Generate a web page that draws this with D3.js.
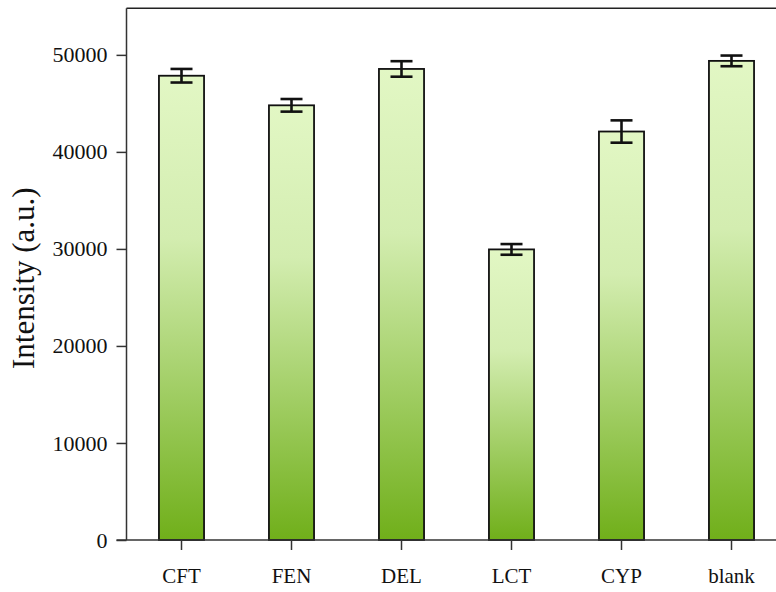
<!DOCTYPE html>
<html><head><meta charset="utf-8">
<script src="https://cdn.jsdelivr.net/npm/d3@7"></script>
<style>body{margin:0;background:#fff}</style>
</head><body>
<svg id="c" width="776" height="592"></svg>
<script>
const categories = ["CFT","FEN","DEL","LCT","CYP","blank"];
const values = [47850, 44800, 48550, 29950, 42100, 49380];
const errors = [700, 650, 800, 550, 1150, 550];
const yTicks = [0,10000,20000,30000,40000,50000];

(function(){
const svg = d3.select("#c");
const left = 126.5, bottom = 540, topY = 8.3;
const x = d3.scaleBand().domain(categories).range([left, left + 660]).paddingInner(0.59).paddingOuter(0.295);
const y = d3.scaleLinear().domain([0, 54800]).range([bottom, topY]);

const defs = svg.append("defs");
const g = defs.append("linearGradient").attr("id","gr").attr("x1",0).attr("y1",0).attr("x2",0).attr("y2",1);
g.append("stop").attr("offset","0%").attr("stop-color","#e2f7c4");
g.append("stop").attr("offset","35%").attr("stop-color","#d3edb0");
g.append("stop").attr("offset","100%").attr("stop-color","#70af1a");

svg.append("line").attr("x1",left).attr("x2",776).attr("y1",topY).attr("y2",topY).attr("stroke","#222").attr("stroke-width",1.5);

svg.selectAll("rect.bar").data(categories).join("rect")
  .attr("class","bar")
  .attr("x", d=>x(d)).attr("width", x.bandwidth())
  .attr("y", (d,i)=>y(values[i])).attr("height",(d,i)=>bottom - y(values[i]))
  .attr("fill","url(#gr)").attr("stroke","#111").attr("stroke-width",1.8);

const eb = svg.append("g").attr("stroke","#111").attr("stroke-width",2.6);
categories.forEach((c,i)=>{
  const cx = x(c) + x.bandwidth()/2;
  const y1 = y(values[i]+errors[i]), y2 = y(values[i]-errors[i]);
  eb.append("line").attr("x1",cx).attr("x2",cx).attr("y1",y1).attr("y2",y2);
  eb.append("line").attr("x1",cx-11).attr("x2",cx+11).attr("y1",y1).attr("y2",y1);
  eb.append("line").attr("x1",cx-11).attr("x2",cx+11).attr("y1",y2).attr("y2",y2);
});

const ya = svg.append("g").attr("transform",`translate(${left},0)`)
  .call(d3.axisLeft(y).tickValues(yTicks).tickSize(10).tickSizeOuter(0).tickPadding(9).tickFormat(d3.format("d")));
ya.select(".domain").attr("d",`M0,${bottom}V${topY}`);
const xa = svg.append("g").attr("transform",`translate(0,${bottom})`)
  .call(d3.axisBottom(x).tickSize(10).tickSizeOuter(0).tickPadding(18));
xa.select(".domain").attr("d",`M${left-10},0H776`);
[ya,xa].forEach((a,k)=>{
  a.attr("font-size",null).attr("font-family",null);
  a.selectAll("path,line").attr("stroke","#333").attr("stroke-width",1.5);
  a.selectAll("text").style("font-family","'Liberation Serif', 'Times New Roman', serif").style("font-size", k===0 ? "22px" : "21px").attr("fill","#111");
});

svg.append("text").attr("transform",`translate(34,${(topY+bottom)/2 + 4}) rotate(-90)`)
  .attr("text-anchor","middle").style("font-family","'Liberation Serif', 'Times New Roman', serif")
  .style("font-size","31px").attr("fill","#111").text("Intensity (a.u.)");
})();
</script>
</body></html>
